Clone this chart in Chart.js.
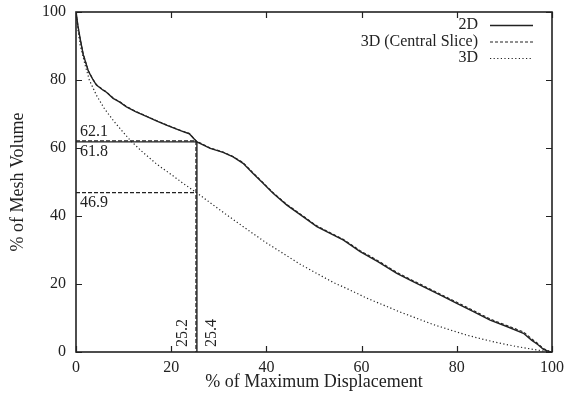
<!DOCTYPE html>
<html>
<head>
<meta charset="utf-8">
<script src="https://cdn.jsdelivr.net/npm/chart.js@4.4.0/dist/chart.umd.min.js"></script>
<style>
  html, body { margin: 0; padding: 0; background: #fff; }
  #wrap { width: 566px; height: 405px; }
</style>
</head>
<body>
<div id="wrap"><canvas id="meshChart" width="566" height="405"></canvas></div>
<script>
// values (% of maximum displacement -> % of mesh volume)
const x2D = [0, 0.4, 0.85, 1.5, 2.6, 3.6, 4.3, 5.7, 6.4, 7.8, 9.2, 10.6, 12.5, 14.9, 17, 19, 21, 22.5, 23.8, 25.4,
  28.2, 30.9, 33, 35.1, 37.2, 39.3, 41.4, 44.3, 47.1, 50.6, 53.5, 56.2, 59.7, 63.5, 67.4, 70.5, 73.7, 77, 80, 83.5,
  87, 90.5, 94, 95.7, 97, 98.2, 99.6, 100];
const y2D = [100, 96, 92.3, 87.6, 82.6, 80, 78.5, 77, 76.4, 74.6, 73.5, 72.1, 70.7, 69.2, 67.9, 66.7, 65.6, 64.8, 64.2, 61.8,
  59.9, 58.7, 57.4, 55.5, 52.5, 49.6, 46.7, 43.2, 40.4, 36.9, 34.8, 32.9, 29.5, 26.5, 23.1, 20.9, 18.7, 16.4, 14.3, 11.9,
  9.4, 7.5, 5.5, 3.5, 2.2, 0.8, 0, 0];

const xSlice = [0, 0.4, 0.85, 1.5, 2.6, 3.6, 4.3, 5.7, 6.4, 7.8, 9.2, 10.6, 12.5, 14.9, 17, 19, 21, 22.5, 23.8, 25.2,
  28.2, 30.9, 33, 35.1, 37.2, 39.3, 41.4, 44.3, 47.1, 50.6, 53.5, 56.2, 59.7, 63.5, 67.4, 70.5, 73.7, 77, 80, 83.5,
  87, 90.5, 94, 95.7, 97, 98.2, 99.6, 100];
const ySlice = [100, 96, 92.4, 87.7, 82.7, 80.1, 78.6, 77.1, 76.5, 74.7, 73.6, 72.2, 70.8, 69.3, 68, 66.8, 65.7, 64.9, 64.3, 62.1,
  60, 58.8, 57.5, 55.7, 52.7, 49.8, 46.9, 43.4, 40.6, 37.1, 35, 33.1, 29.8, 26.8, 23.4, 21.2, 19, 16.7, 14.6, 12.2,
  9.7, 7.8, 5.9, 3.9, 2.5, 1, 0.1, 0];

const x3D = [0, 0.4, 0.84, 1.9, 2.8, 4.3, 6, 8, 10, 11.5, 14, 17, 20, 22.5, 25.3, 28, 31, 33.8, 36.6, 40,
  43.5, 47, 50.6, 54, 57.6, 61, 64.6, 68, 71.6, 75, 78.6, 82, 85.6, 89, 92.6, 95.5, 98.2, 100];
const y3D = [100, 95, 90.5, 84.5, 80, 75.5, 71.5, 67.8, 64.5, 62.1, 58.8, 55.2, 52.2, 49.6, 46.9, 44.1, 41, 38.2, 35.4, 32.1,
  29, 25.9, 23.1, 20.5, 18.2, 15.9, 13.8, 11.8, 9.9, 8.1, 6.5, 5, 3.7, 2.6, 1.6, 0.9, 0.3, 0];

const seriesNames = ['2D', '3D (Central Slice)', '3D'];
const tickValues = [0, 20, 40, 60, 80, 100];

// marked crossing points at the level where the 3D curve meets 46.9
const markSliceX = 25.2, markSliceY = 62.1;
const mark2DX = 25.4, mark2DY = 61.8;
const mark3DY = 46.9;

const ink = '#222';
const serif = "'Liberation Serif', 'Times New Roman', serif";

function pts(xs, ys) {
  return xs.map((x, i) => ({ x: x, y: ys[i] }));
}

const refLines = [
  { data: [{ x: 0, y: markSliceY }, { x: markSliceX, y: markSliceY }, { x: markSliceX, y: 0 }], borderDash: [4, 2], borderWidth: 1.2 },
  { data: [{ x: 0, y: mark2DY }, { x: mark2DX, y: mark2DY }, { x: mark2DX, y: 0 }], borderDash: [], borderWidth: 1.4 },
  { data: [{ x: 0, y: mark3DY }, { x: (markSliceX + mark2DX) / 2, y: mark3DY }], borderDash: [4, 2], borderWidth: 1.2 },
];

const curves = [
  { label: seriesNames[0], data: pts(x2D, y2D), borderDash: [], borderWidth: 1.4 },
  { label: seriesNames[1], data: pts(xSlice, ySlice), borderDash: [3, 2], borderWidth: 1.1 },
  { label: seriesNames[2], data: pts(x3D, y3D), borderDash: [1.2, 2.4], borderWidth: 1.2 },
];

// keep the plot box where the reference has it (no extra room for edge labels)
function fixBox(s) {
  if (s.isHorizontal()) s.height = 53; else s.width = 76;
  s.paddingTop = 0; s.paddingBottom = 0; s.paddingLeft = 0; s.paddingRight = 0;
}

// inward ticks on all four sides, box frame, legend and value labels
const decorPlugin = {
  id: 'decor',
  afterDraw(chart) {
    const ctx = chart.ctx;
    const a = chart.chartArea;
    const xs = chart.scales.x, ys = chart.scales.y;
    const tl = 6;
    ctx.save();
    ctx.strokeStyle = ink;
    ctx.lineWidth = 1.2;
    ctx.beginPath();
    xs.ticks.forEach(t => {
      const px = Math.round(xs.getPixelForValue(t.value)) + 0.5;
      ctx.moveTo(px, a.bottom); ctx.lineTo(px, a.bottom - tl);
      ctx.moveTo(px, a.top); ctx.lineTo(px, a.top + tl);
    });
    ys.ticks.forEach(t => {
      const py = Math.round(ys.getPixelForValue(t.value)) + 0.5;
      ctx.moveTo(a.left, py); ctx.lineTo(a.left + tl, py);
      ctx.moveTo(a.right, py); ctx.lineTo(a.right - tl, py);
    });
    ctx.stroke();
    ctx.lineWidth = 1.6;
    ctx.strokeRect(a.left, a.top, a.right - a.left, a.bottom - a.top);

    // legend
    ctx.font = '16px ' + serif;
    ctx.fillStyle = ink;
    ctx.textAlign = 'right';
    ctx.textBaseline = 'middle';
    curves.forEach((c, i) => {
      const y = 25 + i * 16.5;
      ctx.fillText(c.label, 478, y);
      ctx.setLineDash(c.borderDash);
      ctx.lineWidth = c.borderWidth;
      ctx.beginPath();
      ctx.moveTo(490, y + 0.5); ctx.lineTo(533, y + 0.5);
      ctx.stroke();
    });
    ctx.setLineDash([]);

    // value labels
    ctx.font = '16px ' + serif;
    ctx.textAlign = 'left';
    const x0 = xs.getPixelForValue(0) + 4;
    ctx.textBaseline = 'bottom';
    ctx.fillText(markSliceY.toFixed(1), x0, ys.getPixelForValue(markSliceY) - 1);
    ctx.textBaseline = 'top';
    ctx.fillText(mark2DY.toFixed(1), x0, ys.getPixelForValue(mark2DY) + 2);
    ctx.fillText(mark3DY.toFixed(1), x0, ys.getPixelForValue(mark3DY) + 2);

    const yb = ys.getPixelForValue(0) - 5;
    ctx.save();
    ctx.translate(xs.getPixelForValue(markSliceX) - 5, yb);
    ctx.rotate(-Math.PI / 2);
    ctx.textAlign = 'left';
    ctx.textBaseline = 'bottom';
    ctx.fillText(markSliceX.toFixed(1), 0, 0);
    ctx.restore();
    ctx.save();
    ctx.translate(xs.getPixelForValue(mark2DX) + 7, yb);
    ctx.rotate(-Math.PI / 2);
    ctx.textAlign = 'left';
    ctx.textBaseline = 'top';
    ctx.fillText(mark2DX.toFixed(1), 0, 0);
    ctx.restore();
    ctx.restore();
  }
};

new Chart(document.getElementById('meshChart'), {
  type: 'scatter',
  data: {
    datasets: curves.concat(refLines).map(d => ({
      label: d.label || '',
      data: d.data,
      showLine: true,
      borderColor: ink,
      borderWidth: d.borderWidth,
      borderDash: d.borderDash,
      pointRadius: 0,
      fill: false,
      tension: 0,
    })),
  },
  options: {
    responsive: false,
    animation: false,
    layout: { padding: { left: 0, top: 12, right: 14, bottom: 0 } },
    scales: {
      x: {
        type: 'linear',
        min: 0,
        max: 100,
        grid: { display: false, drawTicks: false },
        border: { display: false },
        afterBuildTicks: s => { s.ticks = tickValues.map(v => ({ value: v })); },
        afterFit: fixBox,
        ticks: { color: ink, padding: 6, maxRotation: 0, font: { family: serif, size: 16 } },
        title: { display: true, text: '% of Maximum Displacement', color: ink, padding: { top: 0, bottom: 12 }, font: { family: serif, size: 18 } },
      },
      y: {
        type: 'linear',
        min: 0,
        max: 100,
        grid: { display: false, drawTicks: false },
        border: { display: false },
        afterBuildTicks: s => { s.ticks = tickValues.map(v => ({ value: v })); },
        afterFit: fixBox,
        ticks: { color: ink, padding: 10, font: { family: serif, size: 16 } },
        title: { display: true, text: '% of Mesh Volume', color: ink, padding: { top: 7, bottom: 0 }, font: { family: serif, size: 18 } },
      },
    },
    plugins: {
      legend: { display: false },
      tooltip: { enabled: false },
    },
  },
  plugins: [decorPlugin],
});
</script>
</body>
</html>
